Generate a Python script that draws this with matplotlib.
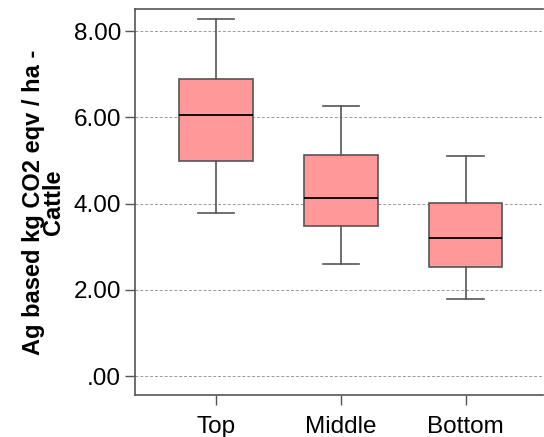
import matplotlib.pyplot as plt
from matplotlib.ticker import FuncFormatter

plt.rcParams['font.family'] = ['Liberation Sans', 'DejaVu Sans']

# Box statistics
categories = ['Top', 'Middle', 'Bottom']
whisker_low = [3.79, 2.59, 1.78]
q1 = [4.98, 3.47, 2.54]
median = [6.05, 4.12, 3.21]
q3 = [6.88, 5.12, 4.02]
whisker_high = [8.28, 6.26, 5.11]

stats = []
for i, name in enumerate(categories):
    stats.append({'label': name, 'whislo': whisker_low[i], 'q1': q1[i],
                  'med': median[i], 'q3': q3[i], 'whishi': whisker_high[i],
                  'fliers': []})

fig = plt.figure(figsize=(5.44, 4.37), dpi=100)
ax = fig.add_axes([0.248, 0.096, 0.75, 0.883])

edge = '#555555'
ax.bxp(stats, positions=[1, 2, 3], widths=0.59, patch_artist=True,
       showfliers=False,
       boxprops=dict(facecolor='#ff9999', edgecolor=edge, linewidth=1.2),
       medianprops=dict(color='black', linewidth=1.3),
       whiskerprops=dict(color=edge, linewidth=1.2),
       capprops=dict(color=edge, linewidth=1.2),
       capwidths=0.29)

ax.set_xlim(0.35, 3.62)
ax.set_ylim(-0.44, 8.51)
ax.set_yticks([0, 2, 4, 6, 8])
ax.yaxis.set_major_formatter(FuncFormatter(lambda v, p: '.00' if v == 0 else f'{v:.2f}'))
ax.grid(axis='y', linestyle=(0, (3, 2)), color='#999999', linewidth=0.7)
ax.set_axisbelow(True)

for side in ['left', 'bottom', 'top']:
    ax.spines[side].set_color('#555555')
    ax.spines[side].set_linewidth(1.2)
ax.spines['right'].set_visible(False)

ax.tick_params(axis='both', direction='out', length=7, width=1.0,
               color='#555555', labelsize=17.5, pad=3)
ax.tick_params(axis='x', pad=8)
ax.set_ylabel('Ag based kg CO2 eqv / ha -\nCattle', fontsize=17,
              fontweight='bold', labelpad=6, linespacing=0.85)

plt.savefig('out.png', dpi=100)
